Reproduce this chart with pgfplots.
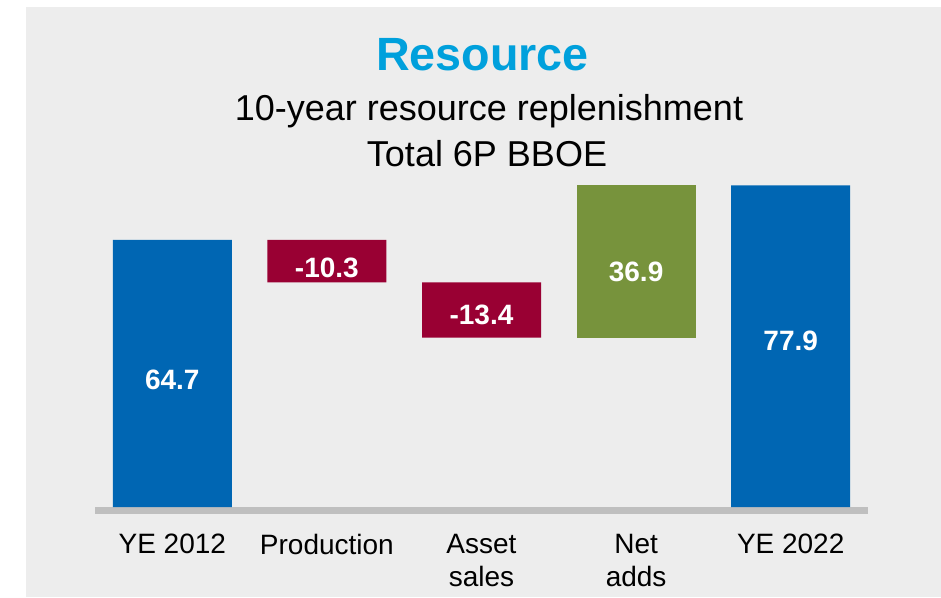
\documentclass[border=0pt]{standalone}
\usepackage{fontspec}
\setmainfont{Liberation Sans}
\usepackage{pgfplots}
\pgfplotsset{compat=1.18}
\definecolor{barblue}{RGB}{0,102,179}
\definecolor{barred}{RGB}{153,0,51}
\definecolor{bargreen}{RGB}{119,147,60}
\definecolor{titleblue}{RGB}{0,160,220}
\definecolor{panel}{RGB}{237,237,237}
\definecolor{axisgray}{RGB}{191,191,191}

% waterfall: invisible base + visible segment
\pgfplotstableread{
x base up down add
0 0    64.7 0    0
1 54.4 0    10.3 0
2 41.0 0    13.4 0
3 41.0 0    0    36.9
4 0    77.9 0    0
}\waterfall

\pgfplotsset{
  wfaxis/.style={
    at={(71.25pt,-380.25pt)}, anchor=south west,
    scale only axis, width=579.75pt, height=247.8pt,
    xmin=-0.5, xmax=4.5, ymin=0, ymax=80,
    clip=false,
    axis line style={draw=none},
    ytick=\empty,
    major tick length=0pt,
  }
}

\begin{document}
\begin{tikzpicture}
\begin{scope}[x=0.75pt,y=-0.75pt]
  \useasboundingbox (0,0) rectangle (941,597);
  \fill[white] (0,0) rectangle (941,597);
  \fill[panel] (26,7) rectangle (941,597);
  \node[anchor=base, inner sep=0, text=titleblue,
        font=\bfseries\fontsize{35}{40}\selectfont] at (482.5,70) {Resource};
  \node[anchor=base, inner sep=0,
        font=\fontsize{27}{32}\selectfont] at (489,120) {10-year resource replenishment};
  \node[anchor=base, inner sep=0,
        font=\fontsize{27}{32}\selectfont] at (487,166.5) {Total 6P BBOE};
\end{scope}

\begin{axis}[wfaxis,
  ybar stacked, bar width=89.25pt,
  xtick={0,1,2,3,4},
  xticklabels={YE 2012, Production, {Asset\\sales}, {Net\\adds}, YE 2022},
  xticklabel style={align=center, anchor=north, yshift=-17pt,
    font=\fontsize{21}{24.5}\selectfont},
]
  \addplot[draw=none, fill=none] table[x=x, y=base] {\waterfall};
  \addplot[draw=none, fill=barblue] table[x=x, y=up] {\waterfall};
  \addplot[draw=none, fill=barred] table[x=x, y=down] {\waterfall};
  \addplot[draw=none, fill=bargreen] table[x=x, y=add] {\waterfall};
  \draw[axisgray, line width=5.25pt]
    ([yshift=-2.6pt]axis cs:-0.5,0) -- ([yshift=-2.6pt]axis cs:4.5,0);
\end{axis}

% value labels
\begin{axis}[wfaxis, xtick=\empty]
  \addplot[draw=none, mark=none, nodes near coords, point meta=explicit symbolic,
    every node near coord/.style={anchor=center, text=white,
      font=\bfseries\fontsize{21}{24}\selectfont}]
    coordinates {(0,30.7)[64.7] (1,57.9)[-10.3] (2,46.5)[-13.4] (3,56.9)[36.9] (4,40.3)[77.9]};
\end{axis}
\end{tikzpicture}
\end{document}
